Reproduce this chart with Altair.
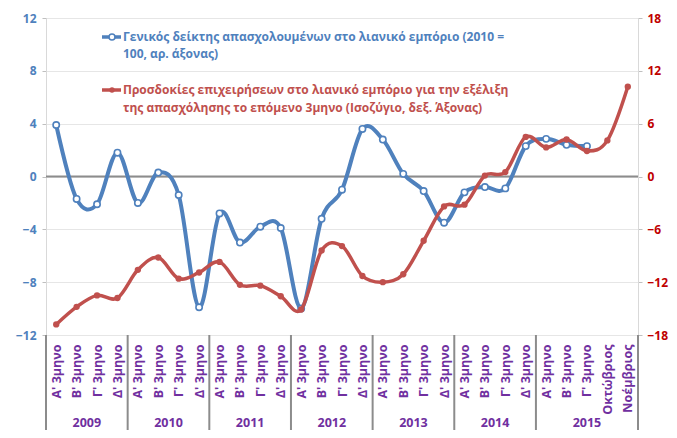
import json
import altair as alt
import pandas as pd

quarters = ["Α' 3μηνο", "Β' 3μηνο", "Γ' 3μηνο", "Δ' 3μηνο"]
labels = quarters * 6 + ["Α' 3μηνο", "Β' 3μηνο", "Γ' 3μηνο", "Οκτώβριος", "Νοέμβριος"]
years = ["2009", "2010", "2011", "2012", "2013", "2014", "2015"]
year_sizes = [4, 4, 4, 4, 4, 4, 5]

employment = [3.9, -1.7, -2.1, 1.8, -2.0, 0.3, -1.4, -9.9, -2.8, -5.0, -3.8, -3.9,
              -10.0, -3.2, -1.0, 3.6, 2.8, 0.2, -1.1, -3.5, -1.2, -0.8, -0.9, 2.3,
              2.85, 2.4, 2.3]
expectations = [-16.8, -14.8, -13.5, -13.8, -10.6, -9.2, -11.6, -10.9, -9.7, -12.3, -12.4, -13.6,
                -15.1, -8.4, -7.9, -11.3, -12.0, -11.1, -7.3, -3.4, -3.2, 0.1, 0.5, 4.5,
                3.3, 4.2, 2.9, 4.1, 10.2]

left_ticks = [-12, -8, -4, 0, 4, 8, 12]
right_ticks = [-18, -12, -6, 0, 6, 12, 18]

legend_blue = ["Γενικός δείκτης απασχολουμένων στο λιανικό εμπόριο (2010 =", "100, αρ. άξονας)"]
legend_red = ["Προσδοκίες επιχειρήσεων στο λιανικό εμπόριο για την εξέλιξη",
              "της απασχόλησης το επόμενο 3μηνο (Ισοζύγιο, δεξ. Άξονας)"]

BLUE = "#4F81BD"
BLUE_TXT = "#4F81BD"
RED = "#C0504D"
RED_TXT = "#C00000"
PURPLE = "#7030A0"
FONT = "Open Sans"

W, H = 592, 317
n = len(labels)

df_blue = pd.DataFrame({"idx": list(range(len(employment))), "v": employment})
df_red = pd.DataFrame({"idx": list(range(len(expectations))), "v": expectations})

bounds = [-0.5]
for s in year_sizes:
    bounds.append(bounds[-1] + s)
df_sep = pd.DataFrame({"idx": bounds})
df_years = pd.DataFrame({
    "year": years,
    "idx": [(bounds[i] + bounds[i + 1]) / 2 for i in range(len(years))],
})

xscale = alt.Scale(domain=[-0.5, n - 0.5], nice=False, zero=False)
label_expr = json.dumps(labels, ensure_ascii=False) + "[datum.value]"

x_axis = alt.Axis(values=list(range(n)), labelExpr=label_expr, labelAngle=270,
                  labelColor=PURPLE, labelFont=FONT, labelFontWeight="bold",
                  labelFontSize=12.5, labelPadding=9, ticks=False, domain=False,
                  grid=False, title=None, labelOverlap=False, labelBound=False)

x_enc = alt.X("idx:Q", scale=xscale, axis=x_axis)

yl_scale = alt.Scale(domain=[-12, 12], nice=False, zero=False)
yr_scale = alt.Scale(domain=[-18, 18], nice=False, zero=False)

left_axis = alt.Axis(values=left_ticks, labelColor=BLUE_TXT, labelFont=FONT,
                     labelFontWeight="bold", labelFontSize=12, tickSize=4,
                     labelPadding=6, domainColor="#D9D9D9", tickColor="#BFBFBF",
                     gridColor="#E6E6E6", grid=True, title=None)
right_axis = alt.Axis(values=right_ticks, orient="right", labelColor=RED_TXT,
                      labelFont=FONT, labelFontWeight="bold", labelFontSize=12,
                      tickSize=4, labelPadding=5, domainColor="#D9D9D9",
                      tickColor="#BFBFBF", grid=False, title=None)

zero = alt.Chart(pd.DataFrame({"z": [0]})).mark_rule(color="#8C8C8C", strokeWidth=2).encode(
    y=alt.Y("z:Q", scale=yl_scale, axis=left_axis)
)
blue_line = alt.Chart(df_blue).mark_line(color=BLUE, strokeWidth=4, interpolate="cardinal").encode(
    x=x_enc, y=alt.Y("v:Q", scale=yl_scale, axis=left_axis)
)
blue_pts = alt.Chart(df_blue).mark_point(filled=True, fill="white", stroke=BLUE, strokeWidth=1.6,
                                          size=40, opacity=1).encode(
    x=x_enc, y=alt.Y("v:Q", scale=yl_scale, axis=left_axis)
)
blue_group = alt.layer(zero, blue_line, blue_pts)

red_line = alt.Chart(df_red).mark_line(color=RED, strokeWidth=3.5, interpolate="cardinal").encode(
    x=x_enc, y=alt.Y("v:Q", scale=yr_scale, axis=right_axis)
)
red_pts = alt.Chart(df_red).mark_circle(color=RED, size=40, opacity=1).encode(
    x=x_enc, y=alt.Y("v:Q", scale=yr_scale, axis=right_axis)
)
red_group = alt.layer(red_line, red_pts)

sep = alt.Chart(df_sep).mark_rule(color="#8C8C8C", strokeWidth=2).encode(
    x=x_enc,
    y=alt.value(H), y2=alt.value(H + 104)
)
year_txt = alt.Chart(df_years).mark_text(color=PURPLE, font=FONT, fontWeight="bold",
                                         fontSize=12.5, baseline="middle").encode(
    x=x_enc,
    y=alt.value(H + 88), text="year:N"
)

# legend
LX = 77
lscale = alt.Scale(domain=[0, H], range=[0, H])
leg_rows = pd.DataFrame({
    "t": legend_blue + legend_red,
    "yy": [19, 36, 72, 90],
    "grp": ["b", "b", "r", "r"],
})
leg_text = alt.Chart(leg_rows).mark_text(align="left", baseline="middle", font=FONT,
                                         fontWeight="bold", fontSize=12).encode(
    x=alt.value(LX), y=alt.Y("yy:Q", scale=lscale, axis=None),
    text="t:N",
    color=alt.Color("grp:N", scale=alt.Scale(domain=["b", "r"], range=[BLUE_TXT, RED_TXT]), legend=None),
)
leg_sym = pd.DataFrame({"grp": ["b", "r"], "yy": [19, 72]})
leg_lines = alt.Chart(leg_sym).mark_rule(strokeWidth=3.5).encode(
    x=alt.value(LX - 21), x2=alt.value(LX - 2),
    y=alt.Y("yy:Q", scale=lscale, axis=None),
    color=alt.Color("grp:N", scale=alt.Scale(domain=["b", "r"], range=[BLUE, RED]), legend=None),
)
leg_b_pt = alt.Chart(leg_sym[leg_sym.grp == "b"]).mark_point(filled=True, fill="white", stroke=BLUE,
                                                             strokeWidth=1.6, size=36, opacity=1).encode(
    x=alt.value(LX - 11), y=alt.Y("yy:Q", scale=lscale, axis=None)
)
leg_r_pt = alt.Chart(leg_sym[leg_sym.grp == "r"]).mark_circle(color=RED, size=30, opacity=1).encode(
    x=alt.value(LX - 11), y=alt.Y("yy:Q", scale=lscale, axis=None)
)
legend = alt.layer(leg_lines, leg_b_pt, leg_r_pt, leg_text)

chart = alt.layer(blue_group, red_group, sep, year_txt, legend).resolve_scale(
    y="independent", color="independent"
).properties(
    width=W, height=H,
    autosize=alt.AutoSizeParams(type="none"),
    padding={"left": 38, "top": 10, "right": 31, "bottom": 95},
).configure_view(stroke=None).configure(background="white")

chart.save("out.html", embed_options={"renderer": "svg", "actions": False})
